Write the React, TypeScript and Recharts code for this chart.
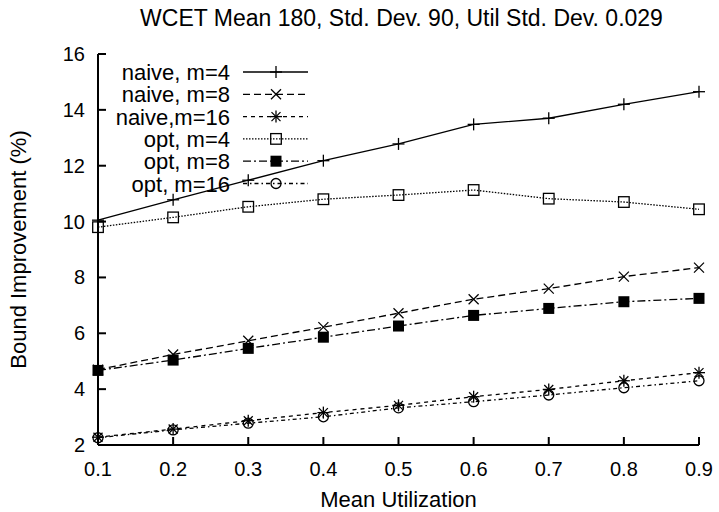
import { LineChart, Line, XAxis, YAxis, Legend } from 'recharts'

const utilization = [0.1, 0.2, 0.3, 0.4, 0.5, 0.6, 0.7, 0.8, 0.9]
const naiveM4 = [10.05, 10.78, 11.48, 12.18, 12.78, 13.48, 13.7, 14.2, 14.65]
const naiveM8 = [4.7, 5.24, 5.73, 6.22, 6.72, 7.22, 7.6, 8.03, 8.35]
const naiveM16 = [2.28, 2.57, 2.87, 3.16, 3.42, 3.73, 3.99, 4.3, 4.59]
const optM4 = [9.8, 10.15, 10.53, 10.8, 10.95, 11.13, 10.82, 10.7, 10.44]
const optM8 = [4.67, 5.04, 5.46, 5.86, 6.26, 6.64, 6.89, 7.13, 7.25]
const optM16 = [2.26, 2.54, 2.78, 3.01, 3.33, 3.55, 3.79, 4.05, 4.3]

const xTicks = [0.1, 0.2, 0.3, 0.4, 0.5, 0.6, 0.7, 0.8, 0.9]
const yTicks = [2, 4, 6, 8, 10, 12, 14, 16]

const FONT = '"Liberation Sans", Arial, Helvetica, sans-serif'
const TITLE = 'WCET Mean 180, Std. Dev. 90, Util Std. Dev. 0.029'

type Kind = 'plus' | 'cross' | 'star' | 'square' | 'filled' | 'circle'

const series: { key: string; name: string; dash?: string; kind: Kind; values: number[] }[] = [
  { key: 'naive4', name: 'naive, m=4', kind: 'plus', values: naiveM4 },
  { key: 'naive8', name: 'naive, m=8', dash: '7 4', kind: 'cross', values: naiveM8 },
  { key: 'naive16', name: 'naive,m=16', dash: '4 4', kind: 'star', values: naiveM16 },
  { key: 'opt4', name: 'opt, m=4', dash: '1.5 1.5', kind: 'square', values: optM4 },
  { key: 'opt8', name: 'opt, m=8', dash: '8 3 2 3', kind: 'filled', values: optM8 },
  { key: 'opt16', name: 'opt, m=16', dash: '4 3 1.5 3', kind: 'circle', values: optM16 },
]

const data = utilization.map((u, i) => {
  const row: any = { u }
  series.forEach(s => { row[s.key] = s.values[i] })
  return row
})

function Marker({ kind, x, y }: { kind: Kind; x: number; y: number }) {
  const st = { stroke: '#000', strokeWidth: 1.3 }
  if (kind === 'plus') return (
    <g {...st}><line x1={x - 6} y1={y} x2={x + 6} y2={y} /><line x1={x} y1={y - 6} x2={x} y2={y + 6} /></g>
  )
  if (kind === 'cross') return (
    <g {...st}><line x1={x - 5} y1={y - 5} x2={x + 5} y2={y + 5} /><line x1={x - 5} y1={y + 5} x2={x + 5} y2={y - 5} /></g>
  )
  if (kind === 'star') return (
    <g {...st}>
      <line x1={x - 6} y1={y} x2={x + 6} y2={y} /><line x1={x} y1={y - 6} x2={x} y2={y + 6} />
      <line x1={x - 4.5} y1={y - 4.5} x2={x + 4.5} y2={y + 4.5} /><line x1={x - 4.5} y1={y + 4.5} x2={x + 4.5} y2={y - 4.5} />
    </g>
  )
  if (kind === 'square') return <rect x={x - 5.3} y={y - 5.3} width={10.6} height={10.6} fill="none" {...st} />
  if (kind === 'filled') return <rect x={x - 5.5} y={y - 5.5} width={11} height={11} fill="#000" />
  return <circle cx={x} cy={y} r={5} fill="none" {...st} />
}

const dotFor = (kind: Kind) => (p: any) => (
  <g key={`${kind}-${p.index}`}><Marker kind={kind} x={p.cx} y={p.cy} /></g>
)

const BottomTick = ({ x, y, payload }: any) => (
  <g>
    <line x1={x} y1={y} x2={x} y2={y - 8} stroke="#000" strokeWidth={2} />
    <text x={x} y={y + 31} textAnchor="middle" fontSize={20} fontFamily={FONT} fill="#000">{payload.value}</text>
  </g>
)
const TopTick = ({ x, y }: any) => <line x1={x} y1={y} x2={x} y2={y + 8} stroke="#000" strokeWidth={2} />
const LeftTick = ({ x, y, payload }: any) => (
  <g>
    <line x1={x} y1={y} x2={x + 8} y2={y} stroke="#000" strokeWidth={2} />
    <text x={x - 13} y={y + 7} textAnchor="end" fontSize={20} fontFamily={FONT} fill="#000">{payload.value}</text>
  </g>
)
const RightTick = ({ x, y }: any) => <line x1={x} y1={y} x2={x - 8} y2={y} stroke="#000" strokeWidth={2} />

const renderLegend = () => (
  <svg width={230} height={140} style={{ display: 'block' }}>
    {series.map((s, i) => {
      const y = 14 + i * 22.3
      return (
        <g key={s.key}>
          <text x={130} y={y + 8} textAnchor="end" fontSize={22} fontFamily={FONT} fill="#000">{s.name}</text>
          <line x1={143} y1={y} x2={208} y2={y} stroke="#000" strokeWidth={1.3} strokeDasharray={s.dash} />
          <Marker kind={s.kind} x={176} y={y} />
        </g>
      )
    })}
  </svg>
)

export default function App() {
  return (
    <div style={{ position: 'relative', width: 719, height: 512, background: '#fff' }}>
      <style>{'body{margin:0}'}</style>
      <div style={{ position: 'absolute', left: 101, top: 5, width: 601, textAlign: 'center',
        fontFamily: FONT, fontSize: 23, lineHeight: 'normal', color: '#000', whiteSpace: 'nowrap', zIndex: 2 }}>
        {TITLE}
      </div>
      <LineChart width={719} height={512} data={data} margin={{ top: 54, right: 20, bottom: 0, left: 0 }}>
        <XAxis dataKey="u" type="number" domain={[0.1, 0.9]} ticks={xTicks} height={67}
          axisLine={{ stroke: '#000', strokeWidth: 2 }} tickLine={false} tickSize={0} tickMargin={0}
          tick={<BottomTick />} interval={0}
          label={{ value: 'Mean Utilization', position: 'insideBottom', offset: 5, fill: '#000', fontSize: 22, fontFamily: FONT }} />
        <XAxis xAxisId="top" orientation="top" dataKey="u" type="number" domain={[0.1, 0.9]} ticks={xTicks} height={0}
          axisLine={{ stroke: '#000', strokeWidth: 2 }} tickLine={false} tickSize={0} tickMargin={0}
          tick={<TopTick />} interval={0} />
        <YAxis type="number" domain={[2, 16]} ticks={yTicks} width={98} interval={0}
          axisLine={{ stroke: '#000', strokeWidth: 2 }} tickLine={false} tickSize={0} tickMargin={0}
          tick={<LeftTick />}
          label={{ value: 'Bound Improvement (%)', angle: -90, position: 'insideLeft', offset: 18, fill: '#000', fontSize: 22, fontFamily: FONT, style: { textAnchor: 'middle' } }} />
        <YAxis yAxisId="right" orientation="right" type="number" domain={[2, 16]} ticks={yTicks} width={0} interval={0}
          axisLine={{ stroke: '#000', strokeWidth: 2 }} tickLine={false} tickSize={0} tickMargin={0}
          tick={<RightTick />} />
        <Legend layout="vertical" align="center" verticalAlign="middle" content={renderLegend}
          wrapperStyle={{ left: 100, top: 58, width: 230, height: 140 }} />
        {series.map(s => (
          <Line key={s.key} dataKey={s.key} name={s.name} type="linear" stroke="#000" strokeWidth={1.3}
            strokeDasharray={s.dash} dot={dotFor(s.kind)} activeDot={false} isAnimationActive={false} />
        ))}
      </LineChart>
    </div>
  )
}
